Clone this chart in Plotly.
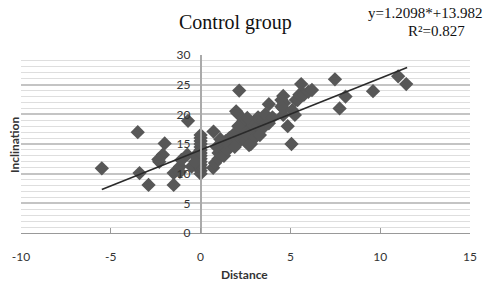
import plotly.graph_objects as go

distance = [
    -5.5, -3.5, -3.4, -2.9, -2.0, -2.1, -2.3, -2.35, -1.5, -1.5, -1.15, -1.07, -1.15, -0.74, -0.5, -0.7,
    0, 0, 0, 0, 0, 0, 0, 0, 0, 0, 0, 0, 0, 0, -0.3, -0.3,
    0.7, 0.72, 0.8, 1.0, 1.0, 1.2, 1.3, 1.5, 1.5, 1.8, 1.8, 2.0, 2.0, 2.2, 2.3, 2.5, 2.5, 2.6,
    2.8, 2.8, 3.0, 3.0, 3.2, 3.2, 3.4, 3.5, 3.6, 2.4, 2.7, 1.6, 1.9, 3.3, 3.8, 4.0, 2.1, 1.4,
    0.9, 1.1, 2.15, 2.05, 1.98, 2.6, 3.8, 4.5, 4.5, 4.6, 4.6, 4.65, 4.6, 4.85, 5.06, 5.1, 5.25,
    5.3, 5.4, 5.5, 5.6, 5.75, 6.0, 6.2, 7.48, 8.07, 7.74, 9.6, 11.0, 11.45
]
inclination = [
    10.9, 17.0, 10.1, 8.1, 15.1, 13.2, 12.0, 12.4, 8.1, 10.1, 11.2, 12.3, 10.3, 13.2, 11.2, 18.9,
    10.0, 10.5, 11.0, 11.5, 12.0, 12.5, 13.0, 13.5, 14.0, 14.5, 15.0, 15.5, 16.0, 16.5, 13.0, 12.0,
    11.0, 17.1, 11.8, 12.5, 13.5, 14.2, 13.0, 15.0, 14.0, 15.5, 16.5, 17.0, 15.0, 16.0, 18.0, 17.5, 15.5, 16.5,
    18.5, 15.0, 17.0, 16.0, 18.0, 19.5, 17.5, 19.0, 20.0, 19.0, 14.8, 16.0, 14.5, 16.5, 18.5, 19.5, 18.0, 15.5,
    14.5, 15.8, 24.0, 20.2, 20.5, 19.4, 21.7, 22.4, 21.3, 23.1, 19.9, 21.9, 21.0, 18.0, 15.0, 20.7, 19.9,
    22.4, 22.4, 23.3, 25.1, 23.3, 23.8, 24.1, 25.9, 23.0, 21.0, 23.9, 26.4, 25.1
]

slope = 1.2098
intercept = 13.982
trend_x = [-5.5, 11.5]
trend_y = [slope * x + intercept for x in trend_x]

x_ticks = [-10, -5, 0, 5, 10, 15]
x_tick_labels = ["-10", "-5", "0", "5", "10", "15"]
y_ticks = [0, 5, 10, 15, 20, 25, 30]
y_tick_labels = ["0", "5", "10", "15", "20", "25", "30"]

W, H = 489, 286
ML, MR, MT, MB = 21, 16, 55, 53
plot_w = W - ML - MR
plot_h = H - MT - MB


def px(xp):
    return (xp - ML) / plot_w


def py(yp):
    return (H - MB - yp) / plot_h


fig = go.Figure()
fig.add_trace(go.Scatter(
    x=distance, y=inclination, mode="markers",
    marker=dict(symbol="diamond", size=11, color="#575757", line=dict(width=0)),
    showlegend=False,
))
fig.add_trace(go.Scatter(
    x=trend_x, y=trend_y, mode="lines",
    line=dict(color="#2a2a2a", width=1.6), showlegend=False,
))

serif = "Liberation Serif, serif"
fig.update_layout(
    width=W, height=H,
    margin=dict(l=ML, r=MR, t=MT, b=MB),
    paper_bgcolor="white", plot_bgcolor="white",
    font=dict(family="Lato, Liberation Sans, sans-serif", color="#333"),
    xaxis=dict(
        range=[-10, 15], tickvals=x_ticks, ticktext=x_tick_labels,
        ticks="inside", ticklen=5, tickcolor="#999",
        showline=True, linecolor="#999", linewidth=1, showgrid=False, zeroline=False,
        ticklabelstandoff=13,
        tickfont=dict(size=12, color="#333"),
    ),
    yaxis=dict(
        range=[0, 30], tickvals=y_ticks, ticktext=y_tick_labels, anchor="free", position=0.4,
        showline=True, linecolor="#aaa", linewidth=1.5, ticks="", zeroline=False,
        ticklabelstandoff=7,
        showgrid=True, gridcolor="#c4c4c4", gridwidth=1.5,
        minor=dict(dtick=1, showgrid=True, gridcolor="#dedede", gridwidth=1),
        tickfont=dict(size=12, color="#333"),
    ),
    annotations=[
        dict(text="<b>Inclination</b>", x=px(14), y=py(145), xref="paper", yref="paper",
             xanchor="center", yanchor="middle",
             showarrow=False, textangle=-90, font=dict(size=12, color="#333")),
        dict(text="<b>Distance</b>", x=px(246), y=py(274), xref="paper", yref="paper",
             xanchor="center", yanchor="middle",
             showarrow=False, font=dict(size=12, color="#333")),
        dict(text="Control group", x=px(237), y=py(22), xref="paper", yref="paper",
             xanchor="center", yanchor="middle",
             showarrow=False, font=dict(family=serif, size=20, color="#111")),
        dict(text="y=1.2098*+13.982", x=px(487), y=py(13), xref="paper", yref="paper",
             xanchor="right", yanchor="middle", showarrow=False,
             font=dict(family=serif, size=15, color="#111")),
        dict(text="R²=0.827", x=px(470), y=py(31), xref="paper", yref="paper",
             xanchor="right", yanchor="middle", showarrow=False,
             font=dict(family=serif, size=15, color="#111")),
    ],
)

fig.write_html(
    "out.html",
    config={"displayModeBar": False},
    post_script="document.body.style.margin='0';document.body.style.overflow='hidden';",
)
